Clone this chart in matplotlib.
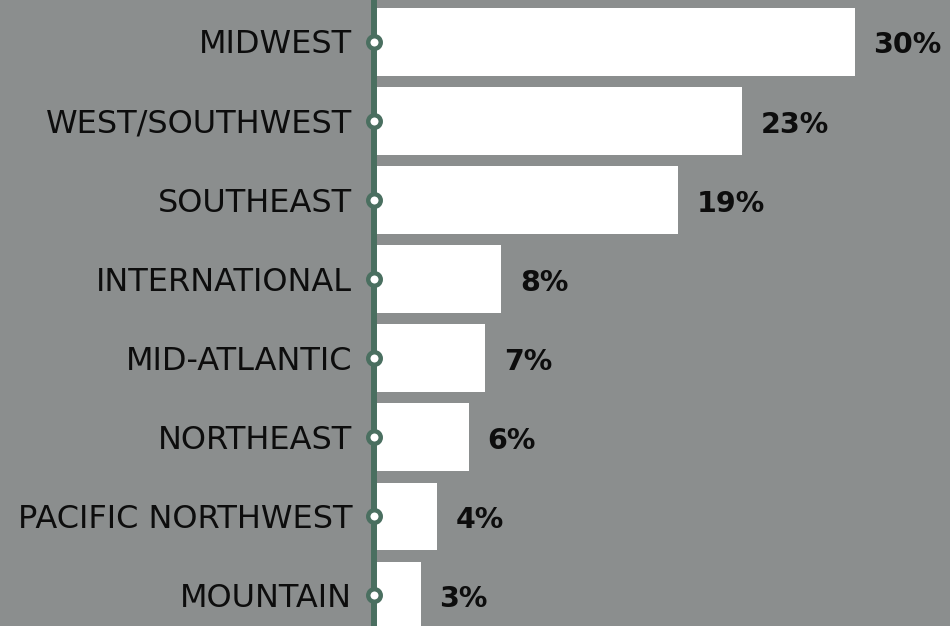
import numpy as np
import matplotlib.pyplot as plt

regions = ["MIDWEST", "WEST/SOUTHWEST", "SOUTHEAST", "INTERNATIONAL",
           "MID-ATLANTIC", "NORTHEAST", "PACIFIC NORTHWEST", "MOUNTAIN"]
shares = [30, 23, 19, 8, 7, 6, 4, 3]

bg = "#8b8e8e"
green = "#4a6f60"

fig = plt.figure(figsize=(9.5, 6.26), dpi=100, facecolor=bg)
ax = fig.add_axes([0, 0, 1, 1])
ax.set_facecolor(bg)

y = np.arange(len(regions))
ax.barh(y, shares, height=0.856, color="white", zorder=2)

ax.axvline(0.075, color=green, linewidth=4.3, zorder=3)
ax.plot(np.full(len(y), 0.075), y, "o", markersize=9, markerfacecolor="white",
        markeredgecolor=green, markeredgewidth=3.2, zorder=4)

for i in range(len(regions)):
    ax.text(-1.29, y[i] + 0.145, regions[i], ha="right", va="baseline",
            fontsize=23, color="#0d0d0d", family="DejaVu Sans")
    ax.text(shares[i] + 1.15, y[i] + 0.145, f"{shares[i]}%", ha="left", va="baseline",
            fontsize=20.5, fontweight="bold", color="#0d0d0d", family="DejaVu Sans")

ax.set_xlim(-23.2, 35.92)
ax.set_ylim(7.386, -0.531)
ax.axis("off")

fig.savefig("out.png", dpi=100, facecolor=bg)
